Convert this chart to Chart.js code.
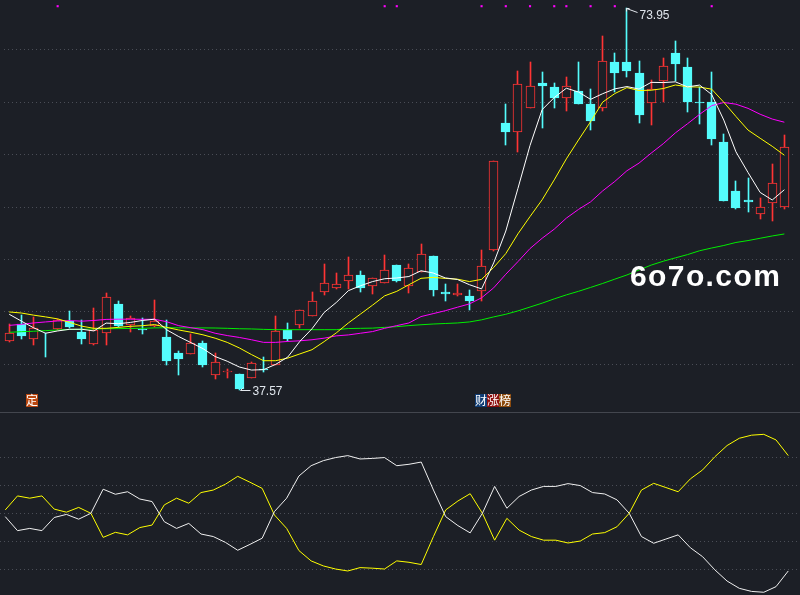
<!DOCTYPE html>
<html>
<head>
<meta charset="utf-8">
<title>K线</title>
<script src="https://cdn.jsdelivr.net/npm/chart.js@4.4.1/dist/chart.umd.min.js"></script>
<style>
    html, body { margin: 0; padding: 0; background: #1c1f26; }
    #wrap { position: relative; width: 800px; height: 595px; overflow: hidden; background: #1c1f26; }
    #main { position: absolute; left: 0; top: 0; }
    #sub { position: absolute; left: 0; top: 413px; }
    #sep { position: absolute; left: 0; top: 412px; width: 800px; height: 1px; background: #43464e; }
    #mark {
        position: absolute; left: 630px; top: 261px;
        font: bold 30px "Liberation Sans", Arial, sans-serif; line-height: 30px;
        letter-spacing: 1.4px; color: #ffffff; white-space: nowrap;
    }
</style>
</head>
<body>
<div id="wrap">
    <canvas id="main" width="800" height="412"></canvas>
    <div id="sep"></div>
    <canvas id="sub" width="800" height="182"></canvas>
    <div id="mark">6o7o.com</div>
</div>
<script>
(function() {
    'use strict';

    // daily candles
    const opens  = [42.25, 43.82, 42.44, 42.56, 43.38, 44.13, 43.07, 41.97, 43.03, 45.78, 43.75, 43.41, 43.69, 42.60, 41.10, 41.03, 42.03, 38.97, 39.28, 39.13, 38.72, 39.53, 39.94, 43.28, 43.75, 44.62, 46.94, 47.25, 48.00, 48.50, 47.50, 47.81, 49.44, 47.44, 48.84, 50.37, 46.87, 46.65, 46.53, 46.97, 50.94, 63.03, 62.13, 64.47, 66.88, 66.50, 65.44, 66.03, 64.81, 64.47, 68.81, 68.81, 67.81, 64.97, 67.00, 69.69, 68.38, 65.03, 65.00, 61.25, 56.56, 55.72, 54.38, 55.41, 55.00];
    const highs  = [43.82, 44.69, 44.53, 42.97, 44.31, 45.13, 44.19, 45.38, 46.81, 46.00, 44.66, 44.47, 46.16, 44.28, 41.32, 42.88, 42.19, 41.07, 39.53, 39.13, 40.22, 40.72, 44.60, 43.97, 45.22, 46.87, 49.53, 48.75, 50.22, 48.87, 48.28, 50.47, 49.44, 49.53, 51.50, 50.37, 47.65, 47.65, 47.06, 50.87, 59.40, 64.84, 68.00, 68.84, 67.91, 66.88, 67.44, 68.81, 66.31, 71.31, 69.69, 73.95, 68.91, 67.13, 69.22, 70.81, 69.22, 66.50, 67.91, 62.00, 57.50, 57.75, 55.88, 59.16, 61.88];
    const lows   = [42.13, 42.44, 41.88, 40.75, 43.31, 43.44, 41.97, 41.88, 41.88, 43.57, 43.13, 42.94, 43.53, 39.94, 38.97, 41.03, 39.75, 38.60, 38.69, 37.57, 38.72, 39.28, 39.94, 42.25, 43.50, 44.62, 46.65, 47.19, 47.19, 46.87, 46.72, 47.81, 47.87, 46.81, 48.84, 46.56, 46.09, 46.50, 45.15, 46.00, 50.84, 60.88, 60.22, 64.47, 62.56, 64.44, 64.19, 64.84, 62.31, 64.19, 65.94, 67.44, 63.06, 62.81, 65.00, 67.00, 64.06, 62.97, 60.88, 55.56, 54.78, 54.50, 53.84, 53.69, 54.78];
    const closes = [42.97, 42.75, 43.50, 42.47, 44.22, 43.57, 42.44, 43.28, 46.41, 43.69, 44.44, 43.31, 44.10, 40.28, 40.56, 42.03, 39.91, 40.25, 39.41, 37.66, 40.16, 39.44, 43.22, 42.44, 45.22, 46.03, 47.72, 47.65, 48.50, 47.31, 48.28, 48.97, 47.94, 49.15, 50.53, 47.12, 46.75, 46.81, 46.00, 49.40, 59.37, 62.19, 66.78, 66.56, 66.53, 65.38, 66.56, 64.84, 63.25, 68.91, 67.75, 67.94, 63.81, 66.25, 68.44, 68.69, 65.00, 64.94, 61.47, 55.63, 54.91, 55.47, 55.00, 57.34, 60.75];

    // moving average lines as drawn
    const ma5  = [44.78, 44.13, 43.50, 42.97, 43.19, 43.35, 43.35, 43.19, 43.94, 43.88, 44.00, 44.19, 44.31, 43.30, 42.65, 42.08, 41.50, 40.75, 40.30, 39.75, 39.46, 39.50, 40.00, 40.70, 42.20, 43.40, 44.95, 45.90, 47.03, 47.50, 47.90, 48.17, 48.24, 48.38, 48.93, 48.72, 48.25, 48.10, 47.60, 47.20, 49.68, 52.72, 56.78, 60.88, 64.30, 65.45, 66.34, 65.98, 65.28, 65.82, 66.28, 66.50, 66.26, 66.90, 66.88, 66.95, 66.47, 66.64, 65.74, 63.30, 60.28, 58.30, 56.40, 55.68, 56.66];
    const ma10 = [45.00, 44.90, 44.70, 44.53, 44.34, 44.00, 43.64, 43.44, 43.44, 43.53, 43.63, 43.69, 43.80, 43.53, 43.28, 43.07, 42.82, 42.50, 42.10, 41.57, 40.94, 40.35, 40.35, 40.60, 41.00, 41.40, 42.17, 43.00, 43.95, 44.80, 45.65, 46.54, 46.97, 47.60, 48.21, 48.30, 48.20, 48.13, 47.90, 48.11, 49.25, 50.57, 52.45, 54.10, 55.70, 57.60, 59.60, 61.40, 63.15, 65.02, 65.83, 66.40, 66.12, 66.15, 66.31, 66.65, 66.48, 66.45, 66.25, 65.00, 63.65, 62.35, 61.57, 60.80, 59.95];
    const ma20 = [43.72, 43.82, 43.95, 44.05, 44.14, 44.18, 44.12, 44.19, 44.29, 44.31, 44.31, 44.30, 44.30, 44.07, 43.69, 43.50, 43.31, 42.97, 42.75, 42.57, 42.35, 42.10, 42.10, 42.19, 42.25, 42.35, 42.50, 42.72, 42.81, 42.97, 43.13, 43.44, 43.70, 43.95, 44.56, 44.84, 45.12, 45.45, 45.77, 46.35, 47.30, 48.60, 49.80, 51.05, 52.03, 52.90, 53.95, 54.78, 55.50, 56.55, 57.45, 58.47, 59.20, 60.15, 61.05, 62.08, 62.95, 63.85, 64.68, 64.98, 64.82, 64.42, 63.86, 63.40, 63.10];
    const ma60 = [43.06, 43.12, 43.16, 43.22, 43.28, 43.33, 43.35, 43.38, 43.40, 43.41, 43.43, 43.44, 43.48, 43.50, 43.49, 43.48, 43.48, 43.47, 43.44, 43.40, 43.38, 43.34, 43.31, 43.31, 43.31, 43.31, 43.31, 43.31, 43.42, 43.44, 43.46, 43.53, 43.60, 43.70, 43.78, 43.85, 43.90, 43.95, 44.05, 44.25, 44.53, 44.78, 45.10, 45.47, 45.84, 46.25, 46.63, 46.97, 47.34, 47.72, 48.13, 48.53, 49.00, 49.47, 49.84, 50.16, 50.47, 50.84, 51.10, 51.34, 51.63, 51.81, 52.03, 52.25, 52.44];

    // lower indicator pane
    const oscYellow = [0.12, 0.62, 0.54, 0.62, 0.15, 0.04, 0.21, 0.00, -0.86, -0.68, -0.77, -0.51, -0.42, 0.30, 0.54, 0.36, 0.74, 0.83, 1.04, 1.32, 1.11, 0.89, -0.06, -0.54, -1.33, -1.70, -1.88, -1.99, -2.06, -1.94, -1.96, -1.99, -1.70, -1.75, -1.83, -0.83, 0.12, 0.44, 0.70, 0.00, -0.96, -0.18, -0.60, -0.83, -0.96, -0.96, -1.06, -0.99, -0.74, -0.69, -0.48, 0.00, 0.83, 1.07, 0.92, 0.77, 1.23, 1.55, 2.02, 2.42, 2.68, 2.79, 2.82, 2.62, 2.06];
    const oscWhite  = [-0.12, -0.62, -0.54, -0.62, -0.15, -0.04, -0.21, 0.00, 0.86, 0.68, 0.77, 0.51, 0.42, -0.30, -0.54, -0.36, -0.74, -0.83, -1.04, -1.32, -1.11, -0.89, 0.06, 0.54, 1.33, 1.70, 1.88, 1.99, 2.06, 1.94, 1.96, 1.99, 1.70, 1.75, 1.83, 0.83, -0.12, -0.44, -0.70, 0.00, 0.96, 0.18, 0.60, 0.83, 0.96, 0.96, 1.06, 0.99, 0.74, 0.69, 0.48, 0.00, -0.83, -1.07, -0.92, -0.77, -1.23, -1.55, -2.02, -2.42, -2.68, -2.79, -2.82, -2.62, -2.06];

    const signalIdx = [4, 31, 32, 39, 41, 43, 45, 46, 48, 50, 58];
    const priceTicks = [40, 45, 50, 55, 60, 65, 70];
    const oscTicks = [-2, -1, 0, 1, 2];
    const eventTags = [
        { i: 2,  chars: ['定'], colors: ['#b8460f'] },
        { i: 39, chars: ['财', '涨', '榜'], colors: ['#0f3c74', '#8c0d0d', '#8c4a0c'] }
    ];

    const BG = '#1c1f26';
    const RED = '#ff3434';
    const CYAN = '#54fcfc';
    const GRID = '#4a4d56';
    const X_MIN = -0.43, X_MAX = 64.96;

    const idx = closes.map((c, i) => i);
    const isUp = i => closes[i] >= opens[i];
    const series = arr => arr.map((v, i) => ({ x: i, y: v }));

    const lineSet = (data, color, order) => ({
        type: 'line',
        data: series(data),
        borderColor: color,
        borderWidth: 1,
        pointRadius: 0,
        tension: 0,
        order: order
    });

    const gridY = (min, max, ticks) => ({
        type: 'linear',
        min: min,
        max: max,
        afterBuildTicks: s => { s.ticks = ticks.map(v => ({ value: v })); },
        afterFit: s => { s.width = 0; },
        ticks: { display: false },
        grid: { color: GRID, lineWidth: 1, drawTicks: false },
        border: { display: false, dash: [1, 3] }
    });

    const gridX = {
        type: 'linear',
        min: X_MIN,
        max: X_MAX,
        offset: false,
        display: false
    };

    // keep candle edges on whole pixels so the 1px outlines stay sharp
    const snapPlugin = {
        id: 'snap',
        beforeDatasetsDraw: function(chart) {
            chart.data.datasets.forEach((ds, di) => {
                const meta = chart.getDatasetMeta(di);
                if (meta.type !== 'bar') return;
                meta.data.forEach(el => {
                    el.x = Math.floor(el.x) + 0.5;
                    el.y = Math.round(el.y);
                    el.base = Math.round(el.base);
                });
            });
        }
    };

    const markerPlugin = {
        id: 'markers',
        afterDatasetsDraw: function(chart) {
            const ctx = chart.ctx;
            const x = chart.scales.x;
            const y = chart.scales.y;

            ctx.save();
            ctx.strokeStyle = '#e4e8ee';
            ctx.fillStyle = '#dfe5ec';
            ctx.lineWidth = 1;
            ctx.font = '12px "Liberation Sans", Arial, sans-serif';
            ctx.textBaseline = 'middle';

            // highest high
            const hi = highs.indexOf(Math.max(...highs));
            let px = Math.floor(x.getPixelForValue(hi)) + 0.5;
            let py = Math.round(y.getPixelForValue(highs[hi])) + 0.5;
            ctx.beginPath();
            ctx.moveTo(px, py + 3);
            ctx.lineTo(px, py);
            ctx.lineTo(px + 3, py);
            ctx.moveTo(px, py);
            ctx.lineTo(px + 11, py + 4);
            ctx.stroke();
            ctx.fillText(highs[hi].toFixed(2), px + 13, py + 7);

            // lowest low
            const lo = lows.indexOf(Math.min(...lows));
            px = Math.floor(x.getPixelForValue(lo)) + 0.5;
            py = Math.round(y.getPixelForValue(lows[lo])) + 0.5;
            ctx.beginPath();
            ctx.moveTo(px + 1, py);
            ctx.lineTo(px + 11, py);
            ctx.moveTo(px + 1, py);
            ctx.lineTo(px + 4, py - 3);
            ctx.stroke();
            ctx.fillText(lows[lo].toFixed(2), px + 13, py + 1);

            // event tags along the bottom of the pane
            ctx.font = '12px "Noto Sans CJK SC", sans-serif';
            ctx.textAlign = 'center';
            const bottom = chart.chartArea.bottom;
            eventTags.forEach(tag => {
                const left = Math.round(x.getPixelForValue(tag.i)) - 7;
                tag.chars.forEach((ch, k) => {
                    const bx = left + k * 12;
                    ctx.fillStyle = tag.colors[k];
                    ctx.fillRect(bx, bottom - 14, 12, 13);
                    ctx.fillStyle = '#ffffff';
                    ctx.fillText(ch, bx + 6, bottom - 7.5);
                });
            });
            ctx.restore();
        }
    };

    const KChart = {
        init: function() {
            this.renderMain();
            this.renderSub();
        },

        renderMain: function() {
            const top = 74.375, bottom = 35.84;

            new Chart(document.getElementById('main'), {
                type: 'bar',
                data: {
                    datasets: [
                        lineSet(ma5, '#ffffff', 0),
                        lineSet(ma10, '#ffff00', 0),
                        lineSet(ma20, '#ff00ff', 0),
                        lineSet(ma60, '#00ee00', 0),
                        {
                            type: 'line',
                            data: signalIdx.map(i => ({ x: i, y: top - 0.21 })),
                            showLine: false,
                            pointStyle: 'rect',
                            pointRadius: 1.5,
                            pointBorderWidth: 0,
                            pointBackgroundColor: '#ff00ff',
                            order: 0
                        },
                        {
                            // candle bodies
                            data: idx.map(i => ({ x: i, y: [opens[i], closes[i]] })),
                            grouped: false,
                            barThickness: 9,
                            borderWidth: 1,
                            borderSkipped: false,
                            backgroundColor: idx.map(i => isUp(i) ? BG : CYAN),
                            borderColor: idx.map(i => isUp(i) ? RED : CYAN),
                            order: 1
                        },
                        {
                            // wicks
                            data: idx.map(i => ({ x: i, y: [lows[i], highs[i]] })),
                            grouped: false,
                            barThickness: 1,
                            borderWidth: 0,
                            backgroundColor: idx.map(i => isUp(i) ? RED : CYAN),
                            order: 2
                        }
                    ]
                },
                options: {
                    responsive: false,
                    animation: false,
                    events: [],
                    layout: { padding: 0 },
                    plugins: {
                        legend: { display: false },
                        tooltip: { enabled: false }
                    },
                    scales: {
                        x: gridX,
                        y: gridY(bottom, top, priceTicks)
                    }
                },
                plugins: [snapPlugin, markerPlugin]
            });
        },

        renderSub: function() {
            new Chart(document.getElementById('sub'), {
                type: 'line',
                data: {
                    datasets: [
                        lineSet(oscWhite, '#f0f0f0', 0),
                        lineSet(oscYellow, '#ffff00', 0)
                    ]
                },
                options: {
                    responsive: false,
                    animation: false,
                    events: [],
                    layout: { padding: 0 },
                    plugins: {
                        legend: { display: false },
                        tooltip: { enabled: false }
                    },
                    scales: {
                        x: gridX,
                        y: gridY(-2.918, 3.582, oscTicks)
                    }
                }
            });
        }
    };

    KChart.init();
})();
</script>
</body>
</html>
